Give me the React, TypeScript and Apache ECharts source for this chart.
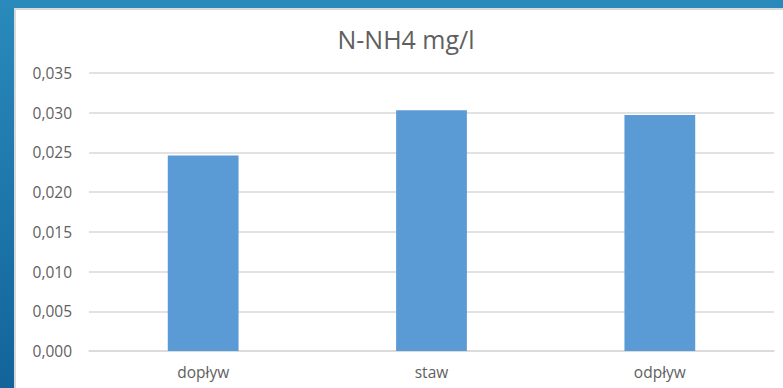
import React, { useEffect, useRef } from "react";
import * as echarts from "echarts";

// Ammonium nitrogen measured at the three sampling points
const categories = ["dopływ", "staw", "odpływ"];
const values = [0.0246, 0.0303, 0.0297];
const chartTitle = "N-NH4 mg/l";
const yMin = 0;
const yMax = 0.035;
const yStep = 0.005;

const W = 783;
const H = 388;
const FONT = "'Open Sans', sans-serif";
const TEXT = "#5f5f5f";
const GRID = "#d9d9d9";

export default function App() {
  const ref = useRef<HTMLDivElement>(null);

  useEffect(() => {
    if (!ref.current) return;
    const chart = echarts.init(ref.current, undefined, { renderer: "svg" });
    chart.setOption({
      animation: false,
      textStyle: { fontFamily: FONT },
      graphic: [
        {
          type: "text",
          x: 406,
          y: 39,
          style: {
            text: chartTitle,
            fill: TEXT,
            font: `25px ${FONT}`,
            textAlign: "center",
            textVerticalAlign: "middle",
          },
        },
      ],
      grid: { left: 89, right: 9, top: 73, bottom: 37, containLabel: false },
      xAxis: {
        type: "category",
        data: categories,
        axisLine: { show: true, lineStyle: { color: GRID, width: 1.5 } },
        axisTick: { show: false },
        axisLabel: { color: TEXT, fontSize: 15.5, fontFamily: FONT, margin: 13 },
      },
      yAxis: {
        type: "value",
        min: yMin,
        max: yMax,
        interval: yStep,
        axisLine: { show: false },
        axisTick: { show: false },
        splitLine: { lineStyle: { color: GRID, width: 1.5 } },
        axisLabel: {
          color: TEXT,
          fontSize: 15.5,
          fontFamily: FONT,
          margin: 17,
          formatter: (v: number) => v.toFixed(3).replace(".", ","),
        },
      },
      series: [
        {
          type: "bar",
          data: values,
          barWidth: "31%",
          itemStyle: { color: "#5b9bd5" },
        },
      ],
    });
    return () => chart.dispose();
  }, []);

  return (
    <div
      style={{
        position: "fixed",
        left: 0,
        top: 0,
        width: W,
        height: H,
        overflow: "hidden",
        background: "linear-gradient(180deg, #2a8abc 0%, #1e77ab 50%, #12649b 100%)",
      }}
    >
      <div
        style={{
          position: "absolute",
          left: 14,
          top: 8,
          right: 0,
          bottom: 0,
          background: "#ffffff",
          borderLeft: `2px solid ${GRID}`,
          borderTop: `2px solid ${GRID}`,
        }}
      />
      <div ref={ref} style={{ position: "absolute", left: 0, top: 0, width: W, height: H }} />
    </div>
  );
}
